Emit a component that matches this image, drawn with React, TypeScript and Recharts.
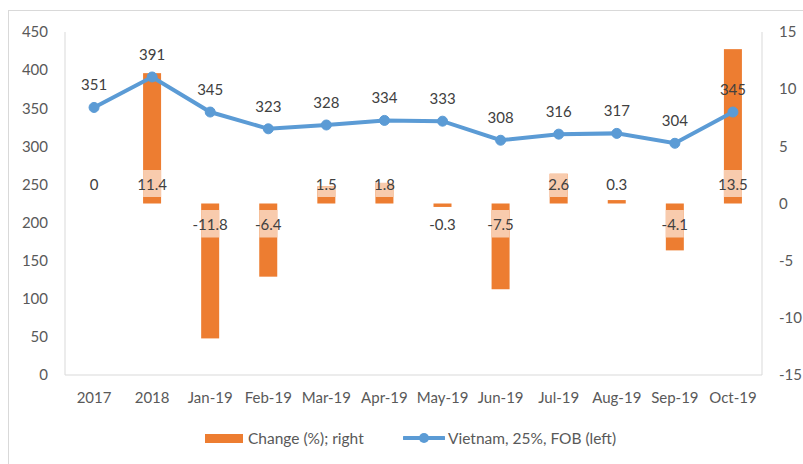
import {
  Bar,
  ComposedChart,
  LabelList,
  Line,
  XAxis,
  YAxis,
} from "recharts";

const CATEGORIES = [
  "2017",
  "2018",
  "Jan-19",
  "Feb-19",
  "Mar-19",
  "Apr-19",
  "May-19",
  "Jun-19",
  "Jul-19",
  "Aug-19",
  "Sep-19",
  "Oct-19",
];
const PRICES = [351, 391, 345, 323, 328, 334, 333, 308, 316, 317, 304, 345];
const CHANGES = [0, 11.4, -11.8, -6.4, 1.5, 1.8, -0.3, -7.5, 2.6, 0.3, -4.1, 13.5];
const LEFT_TICKS = [0, 50, 100, 150, 200, 250, 300, 350, 400, 450];
const RIGHT_TICKS = [-15, -10, -5, 0, 5, 10, 15];

const data = CATEGORIES.map((cat, i) => ({
  cat,
  price: PRICES[i],
  change: CHANGES[i],
}));

const FONT = "Lato, 'Open Sans', sans-serif";
const AXIS_COLOR = "#D9D9D9";
const TICK = { fill: "#595959", fontSize: 15, fontFamily: FONT };
const ORANGE = "#ED7D31";
const PEACH = "#F8CBAD";
const BLUE = "#5B9BD5";

function PriceLabel(props: any) {
  const { x, y, value } = props;
  return (
    <text x={x} y={y - 17} textAnchor="middle" fill="#404040" fontSize={15} fontFamily={FONT}>
      {value}
    </text>
  );
}

// bar + its "inside base" label with the light box Excel draws behind it
function ChangeBar(props: any) {
  const { x, y, width, height, value } = props;
  const v = Array.isArray(value) ? value[1] - value[0] : value;
  const top = Math.min(y, y + height);
  const bottom = Math.max(y, y + height);
  const positive = v >= 0;
  const zero = positive ? bottom : top;
  const boxTop = positive ? zero - 33.5 : zero + 6.5;
  const boxBottom = positive ? zero - 6.5 : zero + 34;
  const t = Math.max(top, boxTop);
  const b = Math.min(bottom, boxBottom);
  return (
    <g>
      {bottom > top && <rect x={x} y={top} width={width} height={bottom - top} fill={ORANGE} />}
      {b > t && <rect x={x} y={t} width={width} height={b - t} fill={PEACH} />}
      <text
        x={x + width / 2}
        y={positive ? zero - 13.5 : zero + 26.5}
        textAnchor="middle"
        fill="#404040"
        fontSize={15}
        fontFamily={FONT}
      >
        {v}
      </text>
    </g>
  );
}

export default function App() {
  return (
    <div style={{ position: "absolute", left: 0, top: 0, width: 803, height: 464, background: "#fff", overflow: "hidden" }}>
      <div
        style={{
          position: "absolute",
          left: 8,
          top: 10,
          width: 800,
          height: 460,
          borderTop: `1px solid ${AXIS_COLOR}`,
          borderLeft: `1px solid ${AXIS_COLOR}`,
        }}
      />
      <div style={{ position: "absolute", left: 0, top: 0 }}>
        <ComposedChart
          width={803}
          height={464}
          data={data}
          margin={{ top: 32, right: 0, left: 8, bottom: 59 }}
          style={{ fontFamily: FONT }}
        >
          <XAxis
            dataKey="cat"
            interval={0}
            height={30}
            tick={TICK}
            tickLine={false}
            tickSize={0}
            tickMargin={17}
            axisLine={{ stroke: AXIS_COLOR }}
          />
          <XAxis xAxisId="top" dataKey="cat" orientation="top" height={0} tick={false} tickLine={false} axisLine={{ stroke: AXIS_COLOR }} />
          <YAxis
            yAxisId="left"
            width={57}
            domain={[0, 450]}
            ticks={LEFT_TICKS}
            tick={TICK}
            tickLine={false}
            tickSize={0}
            tickMargin={17}
            axisLine={{ stroke: AXIS_COLOR }}
          />
          <YAxis
            yAxisId="right"
            orientation="right"
            width={41}
            domain={[-15, 15]}
            ticks={RIGHT_TICKS}
            tick={TICK}
            tickLine={false}
            tickSize={0}
            tickMargin={17}
            axisLine={{ stroke: AXIS_COLOR }}
          />
          <Bar
            yAxisId="right"
            dataKey="change"
            fill={ORANGE}
            barSize={18}
            shape={<ChangeBar />}
            isAnimationActive={false}
          />
          <Line
            yAxisId="left"
            dataKey="price"
            stroke={BLUE}
            strokeWidth={4}
            dot={{ r: 5, fill: BLUE, stroke: BLUE, strokeWidth: 1 }}
            isAnimationActive={false}
          >
            <LabelList dataKey="price" content={<PriceLabel />} />
          </Line>
        </ComposedChart>
      </div>
      {/* legend */}
      <div style={{ position: "absolute", left: 205, top: 429, height: 18, display: "flex", alignItems: "center", fontFamily: FONT, fontSize: 15.5, color: "#595959" }}>
        <span style={{ display: "inline-block", width: 38, height: 9, background: ORANGE, marginRight: 5 }} />
        <span>Change (%); right</span>
      </div>
      <div style={{ position: "absolute", left: 403, top: 429, height: 18, display: "flex", alignItems: "center", fontFamily: FONT, fontSize: 15.5, color: "#595959" }}>
        <svg width={42} height={18} style={{ marginRight: 3 }}>
          <line x1={1} y1={9} x2={41} y2={9} stroke={BLUE} strokeWidth={4} strokeLinecap="round" />
          <circle cx={21} cy={9} r={5} fill={BLUE} />
        </svg>
        <span>Vietnam, 25%, FOB (left)</span>
      </div>
    </div>
  );
}
